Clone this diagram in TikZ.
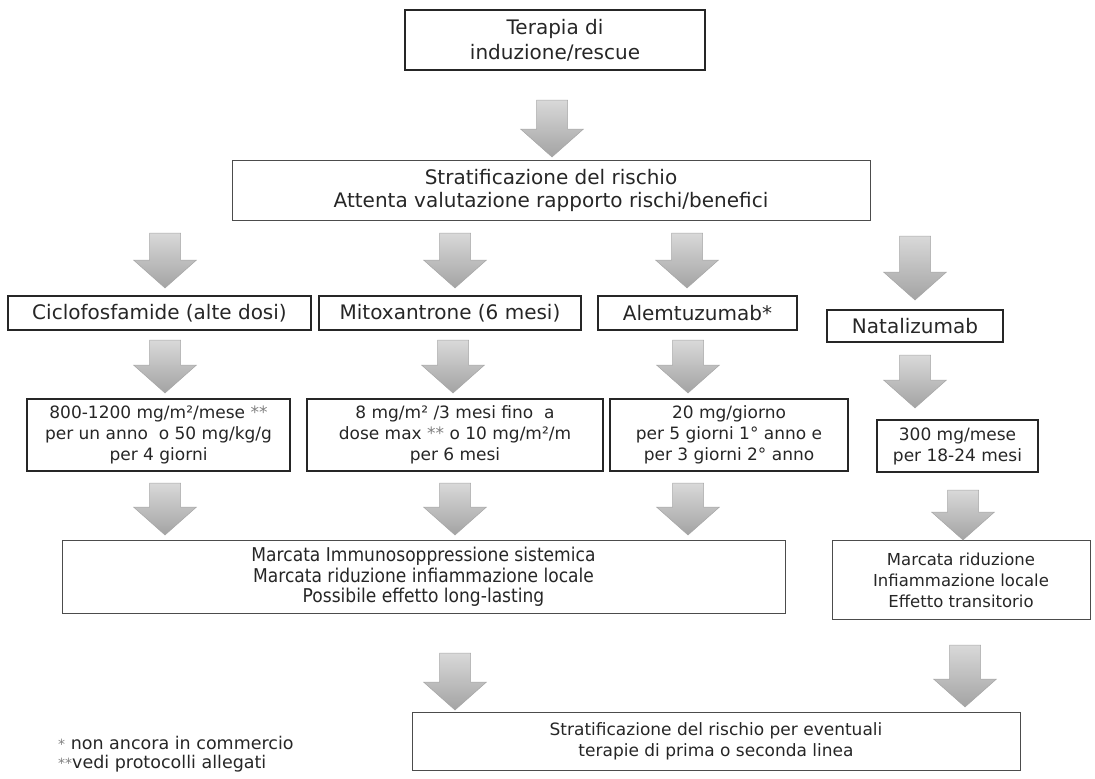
\documentclass[tikz,border=0pt]{standalone}
\usepackage{fontspec}
\setmainfont{DejaVu Sans}
\newfontfamily\narrowfont[FakeStretch=0.9]{DejaVu Sans}
\begin{document}
\begin{tikzpicture}[x=1pt,y=-1pt,
  every node/.style={text=black!85},
  thickbox/.style={draw=black!85, line width=2.2pt, align=center, inner sep=0pt},
  thinbox/.style={draw=black!70, line width=0.9pt, align=center, inner sep=0pt},
  bigfont/.style={font=\fontsize{20}{25}\selectfont},
  dosefont/.style={font=\fontsize{17}{21}\selectfont},
  barr/.pic={\shade[top color=gray!30, bottom color=gray!72, draw=gray!70, line width=0.5pt]
    (-15.5,0) -- (15.5,0) -- (15.5,#1-28) -- (31.5,#1-28) -- (0,#1)
    -- (-31.5,#1-28) -- (-15.5,#1-28) -- cycle;},
  ]
\useasboundingbox (0,0) rectangle (1095,779);

% boxes
\node[thickbox, bigfont, minimum width=300pt, minimum height=60pt] (t) at (555,40)
  {Terapia di\\induzione/rescue};
\node[thinbox, font=\fontsize{20}{23}\selectfont, minimum width=638pt, minimum height=60pt] (s) at (551,190)
  {Stratificazione del rischio\\Attenta valutazione rapporto rischi/benefici};

\node[thickbox, bigfont, minimum width=303pt, minimum height=34pt] (c1) at (159.5,313) {Ciclofosfamide (alte dosi)};
\node[thickbox, bigfont, minimum width=262pt, minimum height=34pt] (c2) at (450,313) {Mitoxantrone (6 mesi)};
\node[thickbox, bigfont, minimum width=199pt, minimum height=34pt] (c3) at (697.5,313) {Alemtuzumab*};
\node[thickbox, bigfont, minimum width=176pt, minimum height=32pt] (c4) at (915,326) {Natalizumab};

\node[thickbox, dosefont, minimum width=263pt, minimum height=72pt] (d1) at (158.5,435)
  {800-1200 mg/m²/mese \textcolor{gray}{**}\\per un anno\ \ o 50 mg/kg/g\\per 4 giorni};
\node[thickbox, dosefont, minimum width=296pt, minimum height=72pt] (d2) at (455,435)
  {8 mg/m² /3 mesi fino\ \ a\\dose max \textcolor{gray}{**} o 10 mg/m²/m\\per 6 mesi};
\node[thickbox, dosefont, minimum width=238pt, minimum height=72pt] (d3) at (729,435)
  {20 mg/giorno\\per 5 giorni 1° anno e\\per 3 giorni 2° anno};
\node[thickbox, dosefont, minimum width=161pt, minimum height=52pt] (d4) at (957.5,446)
  {300 mg/mese\\per 18-24 mesi};

\node[thinbox, font=\narrowfont\fontsize{19}{20.5}\selectfont, minimum width=723pt, minimum height=73pt] (m1) at (423.5,577)
  {Marcata Immunosoppressione sistemica\\Marcata riduzione infiammazione locale\\Possibile effetto long-lasting};
\node[thinbox, font=\fontsize{16.5}{21}\selectfont, minimum width=258pt, minimum height=79pt] (m2) at (961,580)
  {Marcata riduzione\\Infiammazione locale\\Effetto transitorio};

\node[thinbox, font=\fontsize{17}{21}\selectfont, minimum width=608pt, minimum height=58pt] (b) at (716,741)
  {Stratificazione del rischio per eventuali\\terapie di prima o seconda linea};

\node[anchor=west, align=left, inner sep=0pt, font=\fontsize{17.5}{18.5}\selectfont] (fn) at (58,754)
  {\textcolor{gray}{\fontsize{14}{14}\selectfont*}\ non ancora in commercio\\\textcolor{gray}{\fontsize{14}{14}\selectfont**}vedi protocolli allegati};

% block arrows
\pic at (552,100) {barr=57};
\pic at (165,233) {barr=55};
\pic at (455,233) {barr=55};
\pic at (687,233) {barr=55};
\pic at (915,236) {barr=64};
\pic at (165,340) {barr=53};
\pic at (453,340) {barr=53};
\pic at (688,340) {barr=53};
\pic at (915,355) {barr=53};
\pic at (165,483) {barr=52};
\pic at (455,483) {barr=52};
\pic at (688,483) {barr=52};
\pic at (963,490) {barr=50};
\pic at (455,653) {barr=57};
\pic at (965,645) {barr=62};
\end{tikzpicture}
\end{document}
